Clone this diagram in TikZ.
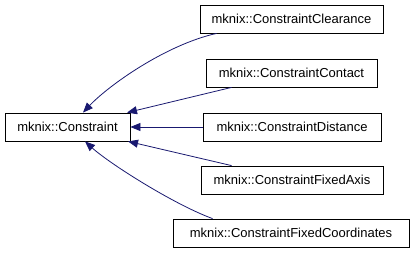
\documentclass[tikz,border=0pt]{standalone}
\usepackage{fontspec}
\setmainfont{Liberation Sans}
\usetikzlibrary{arrows.meta}
\definecolor{edgeblue}{HTML}{191970}

\begin{document}
\begin{tikzpicture}[
  x=1pt, y=-1pt,
  cls/.style={draw, line width=0.8pt, minimum height=28pt, inner sep=0pt, font=\fontsize{13}{15}\selectfont},
  inh/.style={edgeblue, line width=0.8pt, -{Triangle[length=10pt, width=8pt]}},
]
  \useasboundingbox (0,0) rectangle (411,253);

  \node[cls, minimum width=125pt] (base) at (67.5, 127) {mknix::Constraint};

  \node[cls, minimum width=183pt] (clear) at (291.5, 19)  {mknix::ConstraintClearance};
  \node[cls, minimum width=171pt] (cont)  at (291.5, 73)  {mknix::ConstraintContact};
  \node[cls, minimum width=178pt] (dist)  at (292, 127)   {mknix::ConstraintDistance};
  \node[cls, minimum width=182pt] (axis)  at (292, 180)   {mknix::ConstraintFixedAxis};
  \node[cls, minimum width=236pt] (coord) at (291, 233)   {mknix::ConstraintFixedCoordinates};

  \draw[inh] ([xshift=17pt]clear.south west) .. controls (165,45) and (108,86) .. ([xshift=15.5pt]base.north);
  \draw[inh] ([xshift=26pt]cont.south west) -- ([xshift=59.5pt]base.north);
  \draw[inh] (dist.west) -- (base.east);
  \draw[inh] ([xshift=31pt]axis.north west) -- ([xshift=60.5pt]base.south);
  \draw[inh] ([xshift=40pt]coord.north west) .. controls (175,205) and (110,164) .. ([xshift=17.5pt]base.south);
\end{tikzpicture}
\end{document}
